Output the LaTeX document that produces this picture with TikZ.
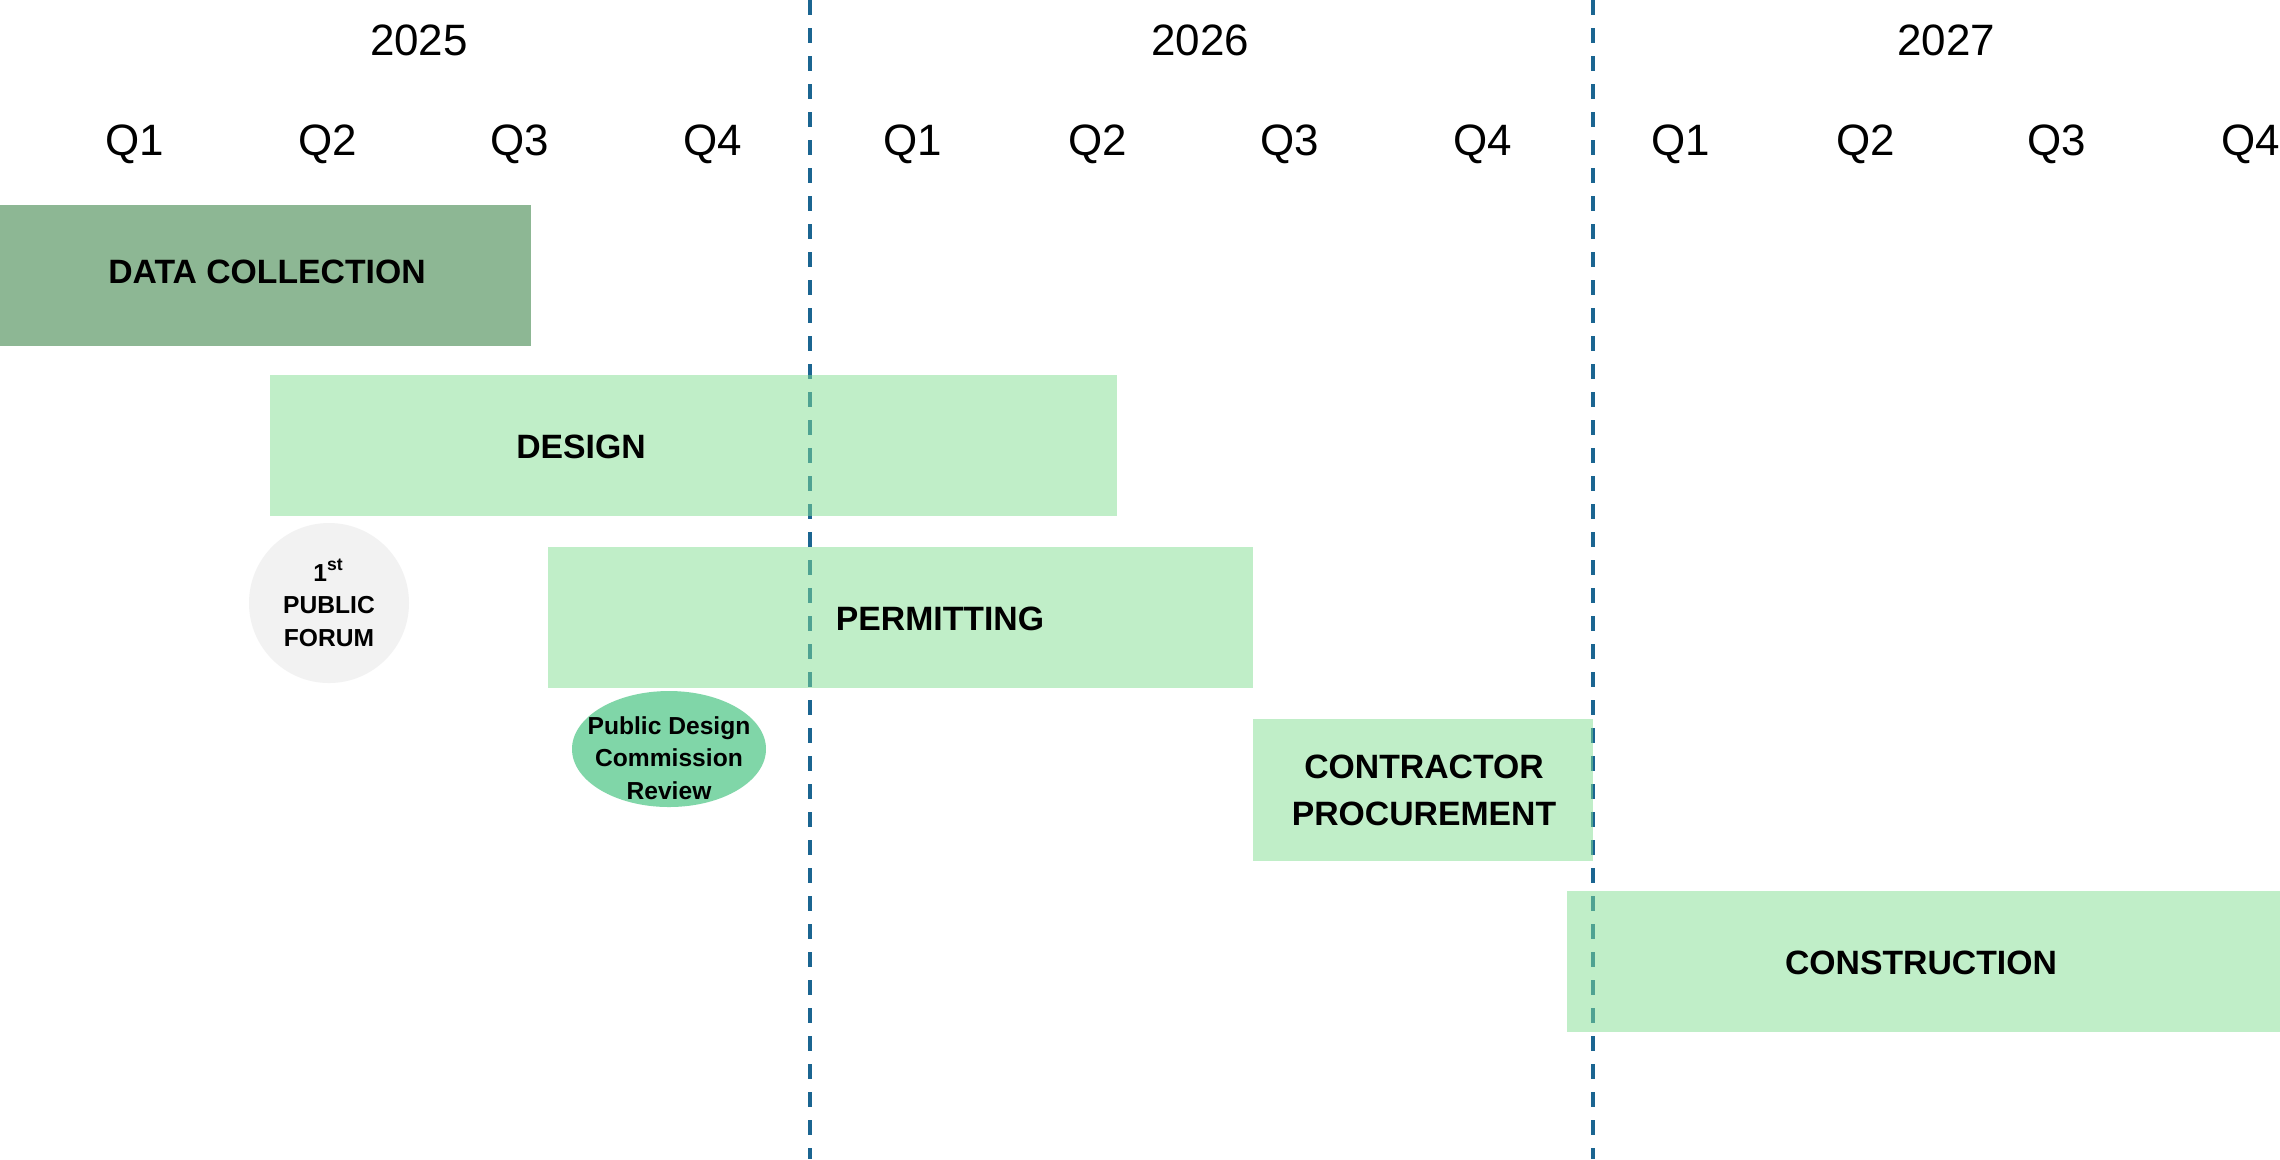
\documentclass[tikz,border=0pt]{standalone}
\usepackage{fontspec}
\setmainfont{Liberation Sans}
\usepackage{xcolor}
\usetikzlibrary{shapes.geometric}

\definecolor{collectgreen}{RGB}{141,183,148}
\definecolor{phasegreen}{RGB}{131,223,147}
\definecolor{forumgray}{RGB}{242,242,242}
\definecolor{reviewgreen}{RGB}{128,214,168}
\definecolor{yearline}{RGB}{27,101,145}

\tikzset{
  yearlabel/.style={font=\fontsize{12.5}{15}\selectfont, anchor=base},
  phaselabel/.style={font=\bfseries\fontsize{9.6}{13.3}\selectfont, anchor=base, align=center},
  phasebar/.style={fill=phasegreen, fill opacity=0.5},
  divider/.style={yearline, line width=1pt, dash pattern=on 0.15cm off 0.13cm},
  eventlabel/.style={font=\bfseries\fontsize{7}{9.3}\selectfont, align=center, inner sep=0pt},
}

\begin{document}
\begin{tikzpicture}
    \useasboundingbox (0,0) rectangle (22.8,-11.59);
    \fill[white] (0,0) rectangle (22.8,-11.59);

    % Years and quarters
    \foreach \yx/\yl in {4.19/2025, 12.00/2026, 19.46/2027}
        \node[yearlabel] (y\yl) at (\yx,-0.55) {\yl};
    \foreach \qx/\ql [count=\i] in {1.35/Q1, 3.28/Q2, 5.20/Q3, 7.13/Q4, 9.13/Q1, 10.98/Q2, 12.90/Q3, 14.83/Q4, 16.81/Q1, 18.66/Q2, 20.57/Q3, 22.51/Q4}
        \node[yearlabel] (q\i) at (\qx,-1.55) {\ql};

    % Year dividers
    \coordinate (div1top) at (8.10,0);
    \coordinate (div1bot) at (8.10,-11.59);
    \coordinate (div2top) at (15.93,0);
    \coordinate (div2bot) at (15.93,-11.59);
    \draw[divider] (div1top) -- (div1bot);
    \draw[divider] (div2top) -- (div2bot);

    % Phase bars
    \fill[collectgreen] (0,-2.05) rectangle (5.31,-3.46);
    \fill[phasebar] (2.70,-3.75) rectangle (11.17,-5.16);
    \fill[phasebar] (5.48,-5.47) rectangle (12.53,-6.88);
    \fill[phasebar] (12.53,-7.19) rectangle (15.93,-8.61);
    \fill[phasebar] (15.67,-8.91) rectangle (22.80,-10.32);

    \node[phaselabel] (collect) at (2.67,-2.83) {DATA COLLECTION};
    \node[phaselabel] (design) at (5.81,-4.58) {DESIGN};
    \node[phaselabel] (permit) at (9.40,-6.30) {PERMITTING};
    \node[phaselabel, anchor=center] (procure) at (14.24,-7.90) {CONTRACTOR\\PROCUREMENT};
    \node[phaselabel] (build) at (19.21,-9.74) {CONSTRUCTION};

    % Events
    \node[circle, fill=forumgray, minimum size=1.6cm, eventlabel] (forum) at (3.29,-6.03) {1\textsuperscript{st}\\PUBLIC\\FORUM};
    \node[ellipse, fill=reviewgreen, minimum width=1.94cm, minimum height=1.16cm] (review) at (6.69,-7.49) {};
    \node[eventlabel] (reviewtext) at ([yshift=-0.09cm]review.center) {Public Design\\Commission\\Review};

\end{tikzpicture}
\end{document}
